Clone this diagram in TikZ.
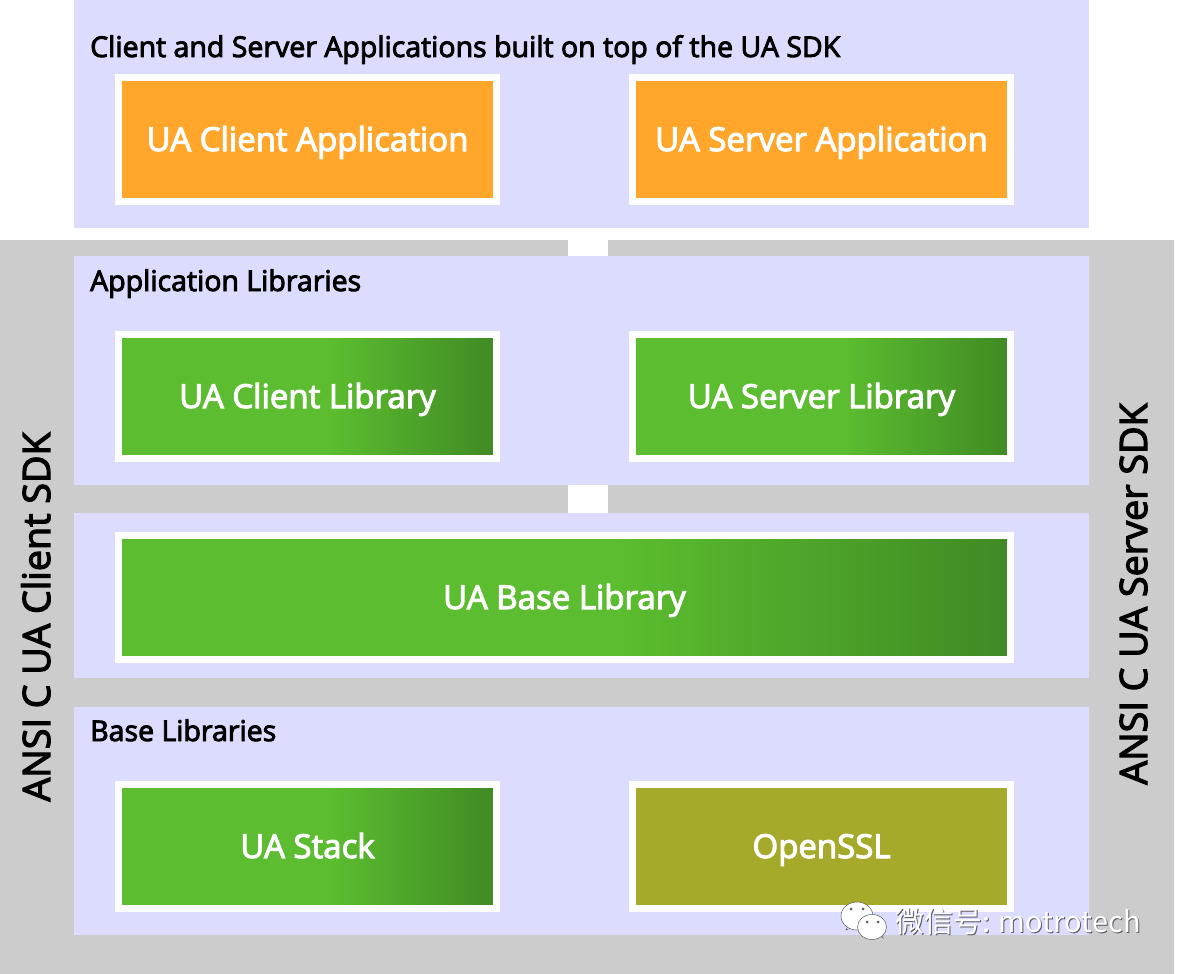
\documentclass[tikz,border=0pt]{standalone}
\usepackage{fontspec}
\setmainfont[FakeBold=3.2]{Open Sans}
\newfontfamily\cjkmark{Noto Sans CJK SC}
\usetikzlibrary{positioning}
\definecolor{panelblue}{RGB}{220,220,255}
\definecolor{sdkgray}{RGB}{204,204,204}
\definecolor{apporange}{RGB}{255,166,43}
\definecolor{libgreen}{RGB}{91,189,47}
\definecolor{libdark}{RGB}{64,138,36}
\definecolor{sslolive}{RGB}{166,170,42}
\definecolor{markshadow}{RGB}{90,90,100}
\pgfdeclarehorizontalshading{libfade}{100bp}{color(0bp)=(libgreen); color(53bp)=(libgreen); color(75bp)=(libdark); color(100bp)=(libdark)}
\begin{document}
\begin{tikzpicture}[x=1pt,y=-1pt,
        panel/.style={rectangle, fill=panelblue, minimum width=1015pt, anchor=north west, inner sep=0pt},
        paneltitle/.style={anchor=base west, inner sep=0pt, font=\fontsize{28.5}{30}\selectfont, text=black},
        appbox/.style={rectangle, draw=white, line width=7pt, fill=apporange, minimum width=378pt, minimum height=124pt, inner sep=0pt, text=white, text height=23pt, text depth=0pt, font=\fontsize{33}{36}\selectfont},
        libbox/.style={appbox, fill=none, shading=libfade},
        sidelabel/.style={rotate=90, anchor=base, inner sep=0pt, font=\fontsize{37.7}{40}\selectfont},
        markbubble/.style={fill=white, draw=markshadow, line width=0.5pt},
        marktext/.style={inner sep=0pt, font=\cjkmark\fontsize{29}{32}\selectfont}
    ]
    \useasboundingbox (0,0) rectangle (1179,974);
    \fill[white] (0,0) rectangle (1179,974);

    % gray band behind the SDK layers
    \node[fill=sdkgray, minimum width=1174pt, minimum height=734pt, inner sep=0pt, anchor=north west] (sdk) at (0,240) {};
    \node[fill=white, minimum width=40pt, minimum height=16pt, inner sep=0pt, anchor=north west] (gapa) at (568,240) {};
    \node[fill=white, minimum width=40pt, minimum height=28pt, inner sep=0pt, anchor=north west] (gapb) at (568,485) {};

    % Define layers
    \node[panel, minimum height=228pt] (apps) at (74,0) {};
    \node[panel, minimum height=229pt] (applibs) at (74,256) {};
    \node[panel, minimum height=165pt] (baselib) at (74,513) {};
    \node[panel, minimum height=228pt] (baselibs) at (74,707) {};

    \node[paneltitle] (appstitle) at (90,57) {Client and Server Applications built on top of the UA SDK};
    \node[paneltitle] (applibstitle) at (90,291) {Application Libraries};
    \node[paneltitle] (baselibstitle) at (90,741) {Base Libraries};

    \node[appbox] (clientapp) at (307.5,139.5) {UA Client Application};
    \node[appbox] (serverapp) at (821.5,139.5) {UA Server Application};
    \node[libbox] (clientlib) at (307.5,396.5) {UA Client Library};
    \node[libbox] (serverlib) at (821.5,396.5) {UA Server Library};
    \node[libbox, minimum width=892pt] (uabase) at (564.5,597.5) {UA Base Library};
    \node[libbox] (uastack) at (307.5,846.5) {UA Stack};
    \node[appbox, fill=sslolive] (openssl) at (821.5,846.5) {OpenSSL};

    \node[sidelabel] (clientsdk) at (50,617) {ANSI C UA Client SDK};
    \node[sidelabel] (serversdk) at (1147,594) {ANSI C UA Server SDK};

    % watermark
    \draw[markbubble] (846,930) -- (850,922) -- (856,926) -- cycle;
    \draw[markbubble] (857,916) ellipse (16 and 14);
    \draw[markbubble] (883,938) -- (876,930) -- (882,928) -- cycle;
    \draw[markbubble] (872,927) ellipse (14.5 and 12.5);
    \foreach \ex/\ey in {851/909, 863/909, 867/922, 878/922}
        \fill[markshadow] (\ex,\ey) circle (1.5);
    \node[marktext, text=markshadow, anchor=west] (markshade) at (896,923) {微信号: motrotech};
    \node[marktext, text=white, anchor=west] (marklabel) at (895,922) {微信号: motrotech};

    \end{tikzpicture}
\end{document}
